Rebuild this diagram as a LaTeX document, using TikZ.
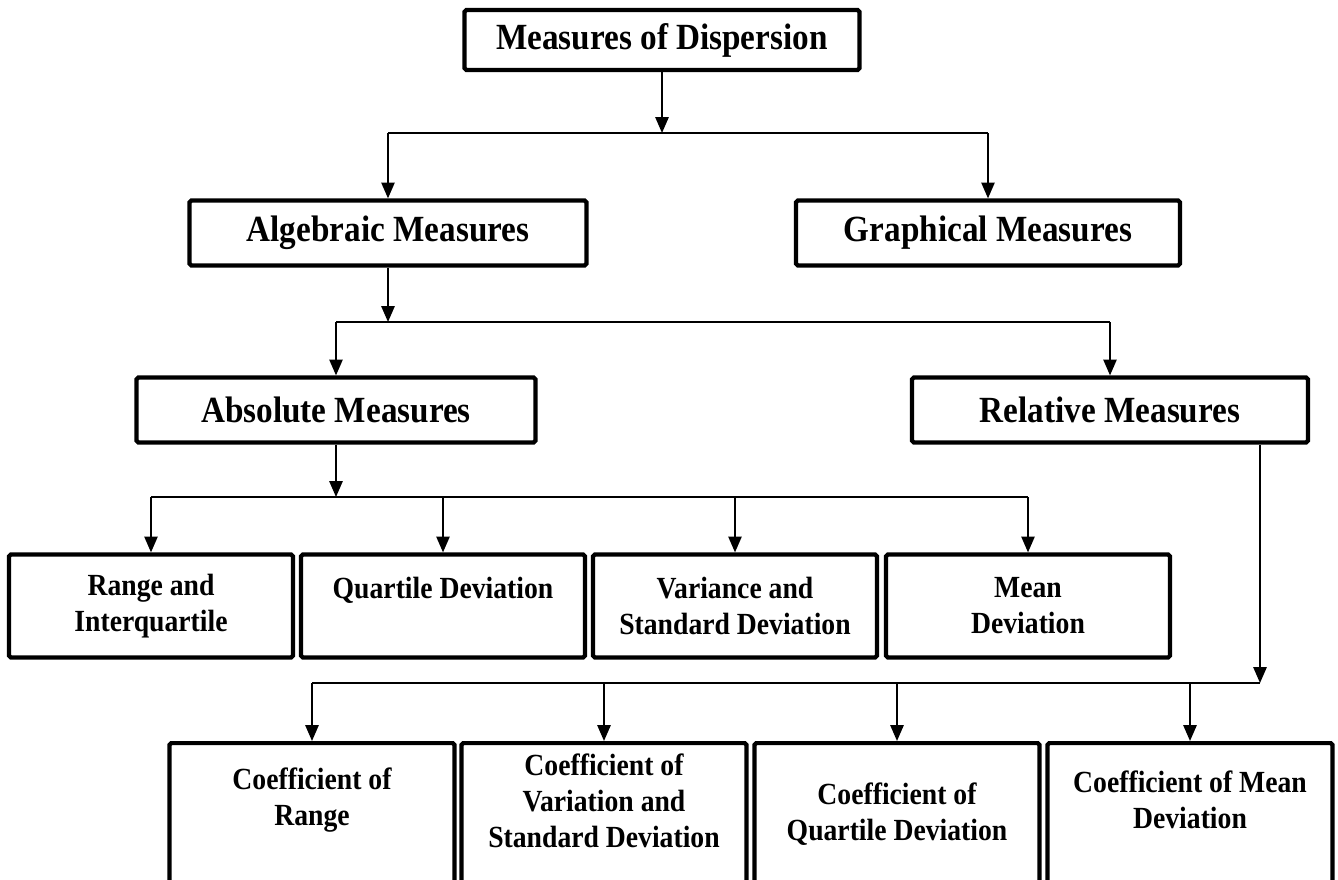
\documentclass[tikz,border=0pt]{standalone}
\usepackage{fontspec}
\setmainfont{Liberation Serif}[FakeStretch=0.9]
\usetikzlibrary{arrows.meta,positioning}

\begin{document}
\begin{tikzpicture}[x=0.02cm,y=-0.02cm,>={Triangle[length=9pt,width=7.5pt]},line width=1.1pt]
\tikzstyle{big} = [draw=black,line width=2.4pt,rounded corners=1pt,minimum height=1.3cm,font=\fontsize{21}{24}\selectfont\bfseries]
\tikzstyle{small} = [draw=black,line width=2.4pt,rounded corners=1pt,minimum width=5.68cm,minimum height=2.06cm,align=center,font=\fontsize{17.5}{20.5}\selectfont\bfseries]
\tikzstyle{coef} = [draw=black,line width=2.4pt,rounded corners=1pt,minimum width=5.7cm,minimum height=3.4cm,anchor=north]
\tikzstyle{coeftext} = [align=center,font=\fontsize{17.5}{20.5}\selectfont\bfseries]
    \useasboundingbox (0,0) rectangle (1338,879);
    \clip (0,0) rectangle (1338,879);

    \node[big,minimum width=7.9cm,minimum height=1.2cm] (disp) at (662,40) {Measures of Dispersion};
    \node[big,minimum width=7.94cm] (alg) at (388,233) {Algebraic Measures};
    \node[big,minimum width=7.68cm] (gra) at (988,233) {Graphical Measures};
    \node[big,minimum width=7.98cm] (abs) at (336,410) {Absolute Measures};
    \node[big,minimum width=7.92cm] (rel) at (1110,410) {Relative Measures};

    \node[small] (rng) at (151,606) {Range and\\Interquartile};
    \node[small] (qd) at (443,606) {Quartile Deviation\\~};
    \node[small] (var) at (735,606) {Variance and\\Standard Deviation};
    \node[small] (md) at (1028,606) {Mean\\Deviation};

    % bottom boxes run off the page
    \node[coef] (cr) at (312,741) {};
    \node[coef] (cv) at (604,741) {};
    \node[coef] (cq) at (897,741) {};
    \node[coef] (cm) at (1190,741) {};
    \node[coeftext] (crt) at (312,800) {Coefficient of\\Range};
    \node[coeftext] (cvt) at (604,801) {Coefficient of\\Variation and\\Standard Deviation};
    \node[coeftext] (cqt) at (897,814) {Coefficient of\\Quartile Deviation};
    \node[coeftext] (cmt) at (1190,800) {Coefficient of Mean\\Deviation};

    \coordinate (s1) at (662,133);
    \coordinate (s2) at (383,322);
    \coordinate (s3) at (338,497);
    \coordinate (s4) at (1260,683);

    \tikzset{arr/.style={->}}
    \draw (disp) edge [arr] (disp |- s1);
    \draw (s1 -| alg) -- (s1 -| gra);
    \draw (s1 -| alg) edge [arr] (alg);
    \draw (s1 -| gra) edge [arr] (gra);

    \draw (alg) edge [arr] (alg |- s2);
    \draw (s2 -| abs) -- (s2 -| rel);
    \draw (s2 -| abs) edge [arr] (abs);
    \draw (s2 -| rel) edge [arr] (rel);

    \draw (abs) edge [arr] (abs |- s3);
    \draw (s3 -| rng) -- (s3 -| md);
    \draw (s3 -| rng) edge [arr] (rng);
    \draw (s3 -| qd) edge [arr] (qd);
    \draw (s3 -| var) edge [arr] (var);
    \draw (s3 -| md) edge [arr] (md);

    \draw (rel.south -| s4) edge [arr] (s4);
    \draw (s4 -| cr) -- (s4);
    \draw (s4 -| cr) edge [arr] (cr);
    \draw (s4 -| cv) edge [arr] (cv);
    \draw (s4 -| cq) edge [arr] (cq);
    \draw (s4 -| cm) edge [arr] (cm);
\end{tikzpicture}
\end{document}
